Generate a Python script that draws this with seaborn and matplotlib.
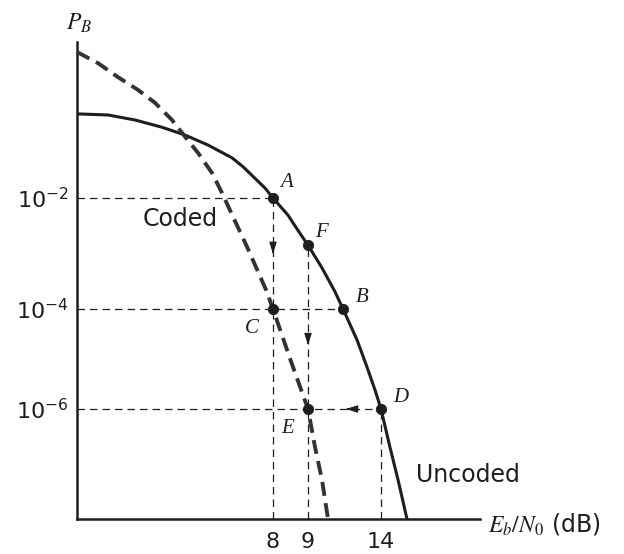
import numpy as np
import pandas as pd
import matplotlib
import matplotlib.pyplot as plt
import seaborn as sns

matplotlib.use('Agg')

# uncoded curve (solid), Eb/N0 in dB and log10(P_B)
uncoded_db = [0, 1.27, 2.37, 3.47, 4.41, 5.35, 6.33, 6.78, 7.67, 8, 8.43, 8.71, 9,
              9.96, 10.85, 11.4, 12.36, 13.04, 13.59, 14, 14.36, 14.69, 15.05]
uncoded_logp = [-0.49, -0.51, -0.60, -0.73, -0.87, -1.05, -1.28, -1.44, -1.82, -2, -2.31, -2.58, -2.85,
                -3.26, -3.69, -4, -4.62, -5.16, -5.62, -6, -6.76, -7.42, -8.2]

# coded curve (dashed)
coded_db = [0, 0.86, 1.67, 2.49, 3.18, 3.88, 4.41, 4.94, 5.51, 5.92, 6.37, 6.94, 7.72,
            8, 8.5, 9, 9.48, 9.96, 10.37]
coded_logp = [0.62, 0.42, 0.17, -0.06, -0.29, -0.60, -0.90, -1.19, -1.55, -1.91, -2.34, -2.88, -3.66,
              -4, -5.02, -6, -6.76, -7.42, -8.2]

# operating points
pt_names = ['A', 'B', 'C', 'D', 'E', 'F']
pt_db = [8, 11.4, 8, 14, 9, 9]
pt_logp = [-2, -4, -4, -6, -6, -2.85]
pt_offset = [(10, 11), (14, 8), (-15, -14), (14, 8), (-15, -14), (10, 9)]  # label offsets, points

xtick_vals = [8, 9, 14]
ytick_vals = [-2, -4, -6]
ytick_labels = [r'$10^{-2}$', r'$10^{-4}$', r'$10^{-6}$']

# the textbook sketch is not drawn to scale -> piecewise axes
x_anchor = [0, 8, 9, 14, 18]
x_pos = [0, 196, 231, 304, 403]
y_anchor = [-8.2, -6, -4, -2, 0.8]
y_pos = [0, 110, 210, 321, 477]

ink = '#1e1e1e'

sns.set_style('white')
plt.rcParams['font.family'] = ['DejaVu Sans']
plt.rcParams['mathtext.fontset'] = 'stix'

fig = plt.figure(figsize=(6.24, 5.54), dpi=100)
ax = fig.add_axes([77 / 624, 35 / 554, 403 / 624, 477 / 554])

ax.set_xscale('function', functions=(lambda v: np.interp(v, x_anchor, x_pos),
                                     lambda v: np.interp(v, x_pos, x_anchor)))
ax.set_yscale('function', functions=(lambda v: np.interp(v, y_anchor, y_pos),
                                     lambda v: np.interp(v, y_pos, y_anchor)))

unc = pd.DataFrame({'db': uncoded_db, 'logp': uncoded_logp})
cod = pd.DataFrame({'db': coded_db, 'logp': coded_logp})
pts = pd.DataFrame({'db': pt_db, 'logp': pt_logp, 'name': pt_names})

# guide lines
guide = dict(color=ink, lw=0.9, linestyle=(0, (6, 4)), zorder=1)
ax.hlines([-2, -4, -6], 0, [8, 11.4, 14], **guide)
ax.vlines([8, 9, 14], -8.2, [-2, -2.85, -6], **guide)

sns.lineplot(data=unc, x='db', y='logp', sort=False, color=ink, lw=2.2,
             solid_joinstyle='round', ax=ax, zorder=3)
sns.lineplot(data=cod, x='db', y='logp', sort=False, color='#333333', lw=2.8,
             linestyle=(0, (3.6, 1.9)), dash_joinstyle='round', ax=ax, zorder=3)
sns.scatterplot(data=pts, x='db', y='logp', color=ink, s=55, edgecolor=ink, ax=ax, zorder=4)

for n, xx, yy, off in zip(pt_names, pt_db, pt_logp, pt_offset):
    ax.annotate(n, (xx, yy), xytext=off, textcoords='offset points', ha='center', va='center',
                fontsize=15, fontfamily='Liberation Serif', fontstyle='italic', color=ink)

# arrowheads on the guide lines
arr = dict(arrowstyle='-|>,head_length=0.7,head_width=0.22', color=ink, lw=0.9)
ax.annotate('', xy=(8, -3.06), xytext=(8, -2.9), arrowprops=arr)
ax.annotate('', xy=(9, -4.78), xytext=(9, -4.6), arrowprops=arr)
ax.annotate('', xy=(11.4, -6), xytext=(12.0, -6), arrowprops=arr)

ax.text(4.2, -2.38, 'Coded', fontsize=17, color=ink, ha='center', va='center')
ax.text(17.5, -7.32, 'Uncoded', fontsize=17, color=ink, ha='center', va='center')

ax.set_xlim(0, 18)
ax.set_ylim(-8.2, 0.8)
ax.set_xticks(xtick_vals)
ax.set_xticklabels([str(v) for v in xtick_vals])
ax.set_yticks(ytick_vals)
ax.set_yticklabels(ytick_labels)
for lbl in ax.get_yticklabels():
    lbl.set_math_fontfamily('dejavusans')
ax.tick_params(axis='both', length=0, labelsize=16, colors=ink)
ax.tick_params(axis='x', pad=9)
ax.tick_params(axis='y', pad=6)
ax.set_xlabel('')
ax.set_ylabel('')

sns.despine(ax=ax)
for s in ['left', 'bottom']:
    ax.spines[s].set_linewidth(1.8)
    ax.spines[s].set_color(ink)
ax.spines['bottom'].set_zorder(5)

fig.text(79 / 624, 1 - 23 / 554, r'$P_B$', fontsize=17, ha='center', va='center', color=ink)
fig.text(488 / 624, 1 - 524 / 554, r'$E_b/N_0$ (dB)', fontsize=17, ha='left', va='center', color=ink)

plt.savefig('out.png', dpi=100)
plt.close()
